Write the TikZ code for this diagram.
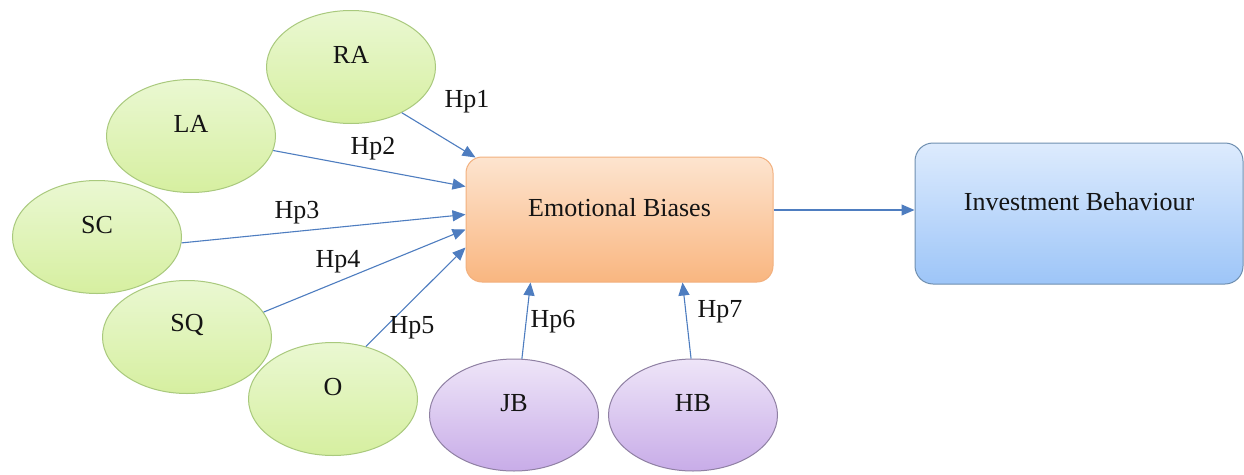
\documentclass[tikz,border=0pt]{standalone}
\usepackage{fontspec}
\setmainfont{Liberation Serif}
\newfontfamily\tnr{Liberation Serif}
\usetikzlibrary{shapes.geometric,arrows.meta,shadings}
\definecolor{grtop}{HTML}{EAF8D2}
\definecolor{grbot}{HTML}{D6EFA0}
\definecolor{grdraw}{HTML}{A9C97D}
\definecolor{ortop}{HTML}{FDE4CF}
\definecolor{orbot}{HTML}{F9B680}
\definecolor{ordraw}{HTML}{F2B07E}
\definecolor{bltop}{HTML}{DDEBFD}
\definecolor{blbot}{HTML}{9DC5F8}
\definecolor{bldraw}{HTML}{6F8FB0}
\definecolor{putop}{HTML}{EEE5F8}
\definecolor{pubot}{HTML}{C8ACE8}
\definecolor{pudraw}{HTML}{8F80A3}
\definecolor{arrcol}{HTML}{4E7DC0}
\definecolor{txtcol}{HTML}{141414}
\begin{document}
\begin{tikzpicture}[x=1pt,y=-1pt,
  every node/.style={font=\tnr\fontsize{26}{30}\selectfont,text=txtcol},
  txt/.style={label={[font=\tnr\fontsize{26}{30}\selectfont,text=txtcol,yshift=12pt]center:#1}},
  green/.style={ellipse,draw=grdraw,line width=1pt,top color=grtop,bottom color=grbot,
    minimum width=169pt,minimum height=113pt,inner sep=0pt,txt=#1},
  purple/.style={ellipse,draw=pudraw,line width=1pt,top color=putop,bottom color=pubot,
    minimum width=169pt,minimum height=112pt,inner sep=0pt,txt=#1},
  orbox/.style={rectangle,rounded corners=16pt,draw=ordraw,line width=1pt,top color=ortop,bottom color=orbot,
    minimum width=307pt,minimum height=125pt,inner sep=0pt,txt=#1},
  blbox/.style={rectangle,rounded corners=18pt,draw=bldraw,line width=1pt,top color=bltop,bottom color=blbot,
    minimum width=328pt,minimum height=141pt,inner sep=0pt,txt=#1},
  conn/.style={draw=arrcol,line width=1.1pt,-{Triangle[length=13pt,width=11pt,fill=arrcol]}},
  hp/.style={inner sep=0pt}
]
\useasboundingbox (0,0) rectangle (1244,474);
\fill[white] (0,0) rectangle (1244,474);

\node[green=RA] (RA) at (351,67) {};
\node[green=LA] (LA) at (191,136) {};
\node[green=SC] (SC) at (97,237) {};
\node[green=SQ] (SQ) at (187,337) {};
\node[green=O]  (O)  at (333,399) {};
\node[purple=JB] (JB) at (514,415) {};
\node[purple=HB] (HB) at (693,415) {};
\node[orbox=Emotional Biases] (EB) at (619.5,219.5) {};
\node[blbox=Investment Behaviour] (IB) at (1079,213.5) {};

\draw[conn] (RA.-42) -- ([xshift=10pt,yshift=-1pt]EB.north west);
\draw[conn] (LA.-10) -- ([yshift=33pt]EB.west);
\draw[conn] (SC.-4)  -- ([yshift=5pt]EB.west);
\draw[conn] (SQ.18)  -- ([yshift=-10pt]EB.west);
\draw[conn] (O.58)   -- ([yshift=-28pt]EB.west);
\draw[conn] (JB.82)  -- ([xshift=-89pt]EB.south);
\draw[conn] (HB.92)  -- ([xshift=63pt]EB.south);
\coordinate (ebout) at ([yshift=9.5pt]EB.east);
\draw[conn] (ebout) -- (ebout -| IB.west);

\node[hp] (h1) at (467,102) {Hp1};
\node[hp] (h2) at (373,149) {Hp2};
\node[hp] (h3) at (297,213) {Hp3};
\node[hp] (h4) at (338,262) {Hp4};
\node[hp] (h5) at (412,328) {Hp5};
\node[hp] (h6) at (553,322) {Hp6};
\node[hp] (h7) at (720,312) {Hp7};
\end{tikzpicture}
\end{document}
